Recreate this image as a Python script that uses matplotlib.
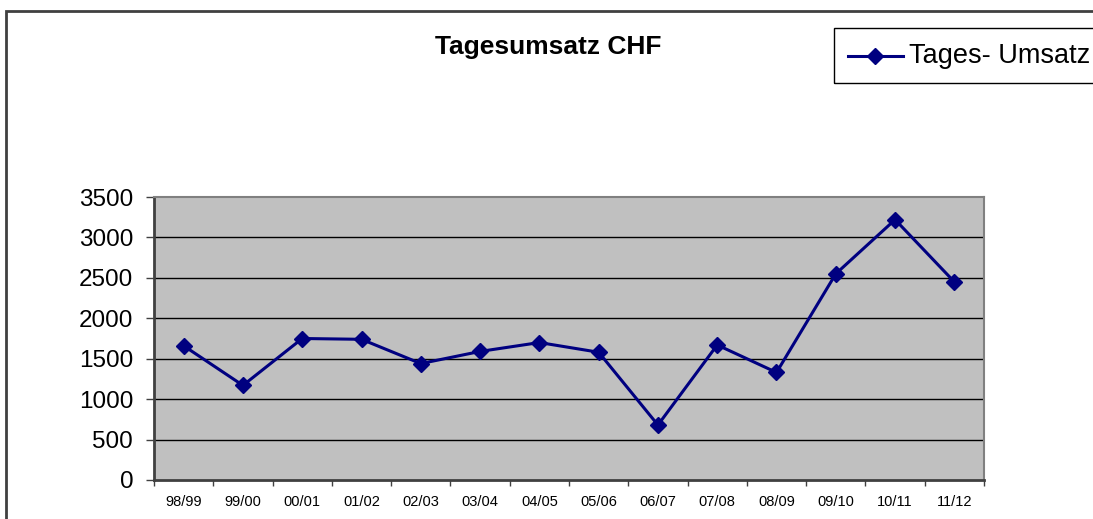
import matplotlib.pyplot as plt
from matplotlib.patches import Rectangle
from matplotlib.lines import Line2D

plt.rcParams['font.family'] = ['Liberation Sans', 'DejaVu Sans']

seasons = ["98/99", "99/00", "00/01", "01/02", "02/03", "03/04", "04/05",
           "05/06", "06/07", "07/08", "08/09", "09/10", "10/11", "11/12"]
umsatz = [1660, 1170, 1750, 1740, 1440, 1590, 1700,
          1580, 680, 1670, 1330, 2550, 3220, 2450]
y_ticks = [0, 500, 1000, 1500, 2000, 2500, 3000, 3500]

W, H = 1093, 519
fig = plt.figure(figsize=(W / 100, H / 100), dpi=100)
fig.patch.set_facecolor("white")

# plot area in pixels: x 154..984, y 197..480
ax = fig.add_axes([154 / W, 1 - 480 / H, (984 - 154) / W, (480 - 197) / H])
ax.set_facecolor("#C0C0C0")

x = list(range(len(seasons)))
ax.plot(x, umsatz, color="#000080", linewidth=2.2, marker="D", markersize=8,
        markeredgecolor="#000080", zorder=3, clip_on=False)

ax.set_xlim(-0.5, len(seasons) - 0.5)
ax.set_ylim(0, 3500)
ax.set_yticks(y_ticks)
ax.set_yticklabels([str(v) for v in y_ticks], fontsize=17.5)
for v in y_ticks[1:-1]:
    ax.axhline(v, color="black", linewidth=1, zorder=1)

ax.set_xticks(x)
ax.set_xticklabels(seasons, fontsize=10.5)
ax.set_xticks([i - 0.5 for i in range(len(seasons) + 1)], minor=True)
ax.tick_params(axis="x", which="major", length=0, pad=11)
ax.tick_params(axis="x", which="minor", length=4, width=1, color="#404040")
ax.tick_params(axis="y", length=6, width=1, color="#404040", pad=9)

for side in ["left", "bottom"]:
    ax.spines[side].set_color("#404040")
    ax.spines[side].set_linewidth(2)
for side in ["top", "right"]:
    ax.spines[side].set_color("#808080")
    ax.spines[side].set_linewidth(1.5)

fig.text(548 / W, 1 - 47 / H, "Tagesumsatz CHF", fontsize=19, fontweight="bold",
         ha="center", va="center")

# outer chart border (runs past the right and bottom image edges)
fig.patches.append(Rectangle((6 / W, -0.1), 1.2, 1 - 11 / H + 0.1,
                             transform=fig.transFigure, fill=False,
                             edgecolor="#404040", linewidth=2))

# legend box, cut off at the right edge
fig.patches.append(Rectangle((834 / W, 1 - 83 / H), 0.3, 55 / H,
                             transform=fig.transFigure, fill=False,
                             edgecolor="black", linewidth=1))
fig.lines.append(Line2D([848 / W, 903 / W], [1 - 56 / H, 1 - 56 / H],
                        transform=fig.transFigure, color="#000080", linewidth=2.2))
fig.lines.append(Line2D([875 / W], [1 - 56 / H], transform=fig.transFigure,
                        color="#000080", marker="D", markersize=8, linestyle="none"))
fig.text(909 / W, 1 - 56 / H, "Tages- Umsatz", fontsize=19.5, ha="left", va="center")

fig.savefig("out.png", dpi=100)
